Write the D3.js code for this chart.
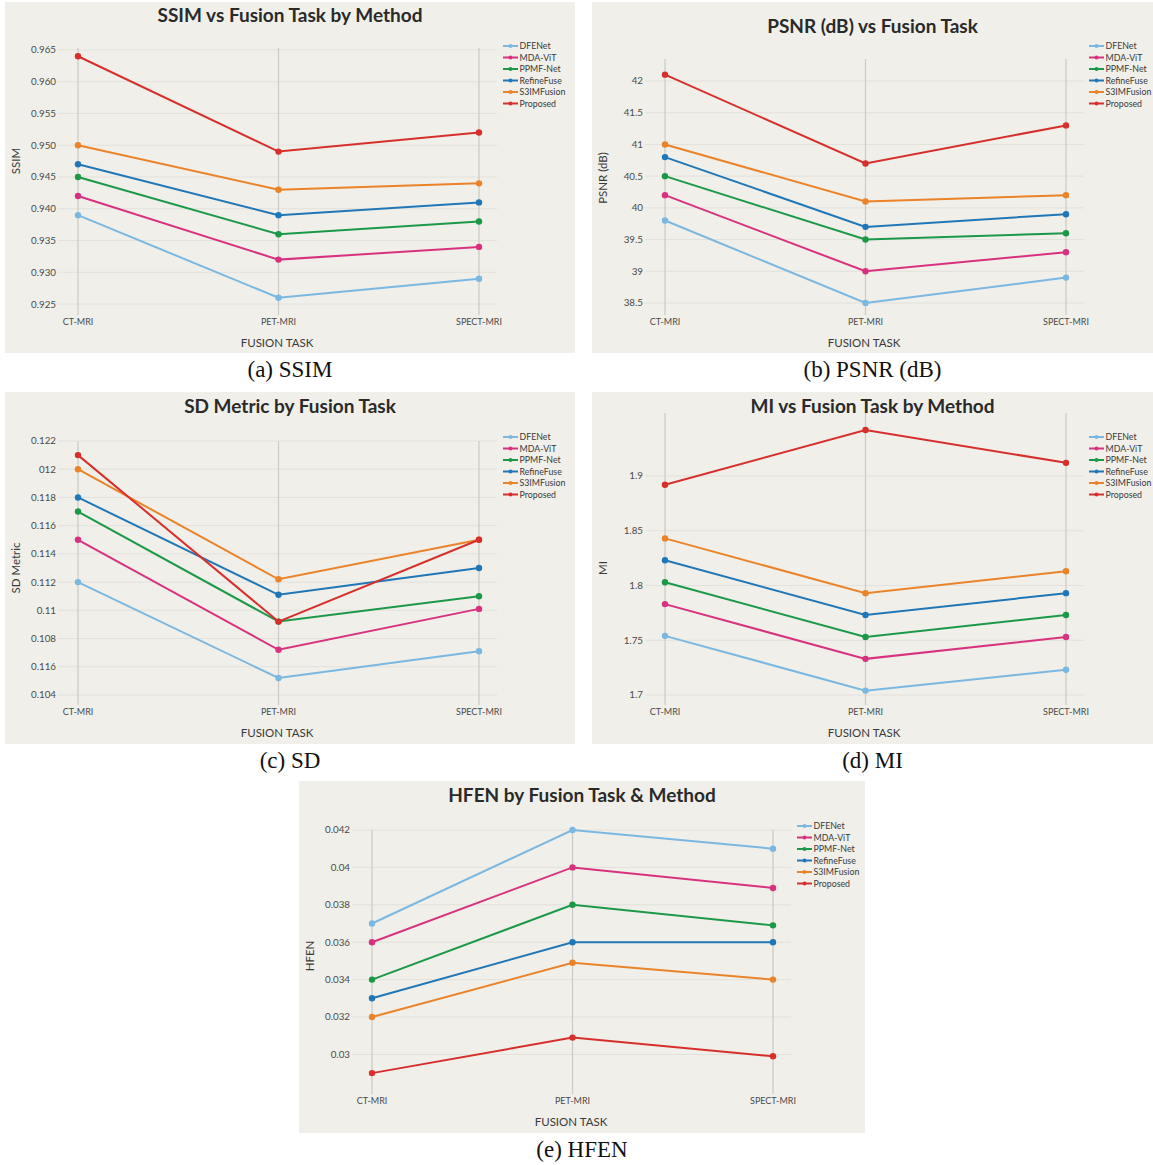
<!DOCTYPE html>
<html>
<head>
<meta charset="utf-8">
<script src="https://cdn.jsdelivr.net/npm/d3@7/dist/d3.min.js"></script>
<style>
  html, body { margin: 0; padding: 0; background: #ffffff; }
  svg { display: block; }
</style>
</head>
<body>
<svg id="fig" width="1153" height="1165"></svg>
<script>
// Fusion tasks (x categories) and compared methods (series)
const tasks = ["CT-MRI", "PET-MRI", "SPECT-MRI"];
const methods = ["DFENet", "MDA-ViT", "PPMF-Net", "RefineFuse", "S3IMFusion", "Proposed"];
const methodColors = ["#7ab8e2", "#d8317f", "#1b9948", "#2077b7", "#ea8329", "#d72f2c"];

// SSIM per method, in task order
const ssimDFENet = [0.939, 0.926, 0.929];
const ssimMDAViT = [0.942, 0.932, 0.934];
const ssimPPMFNet = [0.945, 0.936, 0.938];
const ssimRefineFuse = [0.947, 0.939, 0.941];
const ssimS3IMFusion = [0.950, 0.943, 0.944];
const ssimProposed = [0.964, 0.949, 0.952];
const ssimTicks = [0.925, 0.930, 0.935, 0.940, 0.945, 0.950, 0.955, 0.960, 0.965];
const ssimTickLabels = ["0.925", "0.930", "0.935", "0.940", "0.945", "0.950", "0.955", "0.960", "0.965"];

// PSNR (dB)
const psnrDFENet = [39.8, 38.5, 38.9];
const psnrMDAViT = [40.2, 39.0, 39.3];
const psnrPPMFNet = [40.5, 39.5, 39.6];
const psnrRefineFuse = [40.8, 39.7, 39.9];
const psnrS3IMFusion = [41.0, 40.1, 40.2];
const psnrProposed = [42.1, 40.7, 41.3];
const psnrTicks = [38.5, 39, 39.5, 40, 40.5, 41, 41.5, 42];
const psnrTickLabels = ["38.5", "39", "39.5", "40", "40.5", "41", "41.5", "42"];

// SD metric
const sdDFENet = [0.1120, 0.1052, 0.1071];
const sdMDAViT = [0.1150, 0.1072, 0.1101];
const sdPPMFNet = [0.1170, 0.1092, 0.1110];
const sdRefineFuse = [0.1180, 0.1111, 0.1130];
const sdS3IMFusion = [0.1200, 0.1122, 0.1150];
const sdProposed = [0.1210, 0.1092, 0.1150];
const sdTicks = [0.104, 0.106, 0.108, 0.110, 0.112, 0.114, 0.116, 0.118, 0.120, 0.122];
const sdTickLabels = ["0.104", "0.116", "0.108", "0.11", "0.112", "0.114", "0.116", "0.118", "012", "0.122"];

// MI
const miDFENet = [1.754, 1.704, 1.723];
const miMDAViT = [1.783, 1.733, 1.753];
const miPPMFNet = [1.803, 1.753, 1.773];
const miRefineFuse = [1.823, 1.773, 1.793];
const miS3IMFusion = [1.843, 1.793, 1.813];
const miProposed = [1.892, 1.942, 1.912];
const miTicks = [1.7, 1.75, 1.8, 1.85, 1.9];
const miTickLabels = ["1.7", "1.75", "1.8", "1.85", "1.9"];

// HFEN
const hfenDFENet = [0.0370, 0.0420, 0.0410];
const hfenMDAViT = [0.0360, 0.0400, 0.0389];
const hfenPPMFNet = [0.0340, 0.0380, 0.0369];
const hfenRefineFuse = [0.0330, 0.0360, 0.0360];
const hfenS3IMFusion = [0.0320, 0.0349, 0.0340];
const hfenProposed = [0.0290, 0.0309, 0.0299];
const hfenTicks = [0.030, 0.032, 0.034, 0.036, 0.038, 0.040, 0.042];
const hfenTickLabels = ["0.03", "0.032", "0.034", "0.036", "0.038", "0.04", "0.042"];

// Panel layout: box position, plot top, y-domain at the plot edges
const panels = [
  { title: "SSIM vs Fusion Task by Method", yTitle: "SSIM", caption: "(a) SSIM",
    series: [ssimDFENet, ssimMDAViT, ssimPPMFNet, ssimRefineFuse, ssimS3IMFusion, ssimProposed],
    ticks: ssimTicks, tickLabels: ssimTickLabels, domain: [0.9236, 0.9653],
    x: 5, y: 2, w: 570, h: 351, top: 46, titleY: 20, yTitleY: 159, legendX: 498, legendY: 44 },
  { title: "PSNR (dB) vs Fusion Task", yTitle: "PSNR (dB)", caption: "(b) PSNR (dB)",
    series: [psnrDFENet, psnrMDAViT, psnrPPMFNet, psnrRefineFuse, psnrS3IMFusion, psnrProposed],
    ticks: psnrTicks, tickLabels: psnrTickLabels, domain: [38.342, 42.347],
    x: 592, y: 2, w: 561, h: 351, top: 57, titleY: 31, yTitleY: 176, legendX: 497, legendY: 44 },
  { title: "SD Metric by Fusion Task", yTitle: "SD Metric", caption: "(c) SD",
    series: [sdDFENet, sdMDAViT, sdPPMFNet, sdRefineFuse, sdS3IMFusion, sdProposed],
    ticks: sdTicks, tickLabels: sdTickLabels, domain: [0.10343, 0.122],
    x: 5, y: 392, w: 570, h: 352, top: 49, titleY: 21, yTitleY: 176, legendX: 498, legendY: 45 },
  { title: "MI vs Fusion Task by Method", yTitle: "MI", caption: "(d) MI",
    series: [miDFENet, miMDAViT, miPPMFNet, miRefineFuse, miS3IMFusion, miProposed],
    ticks: miTicks, tickLabels: miTickLabels, domain: [1.6927, 1.9575],
    x: 592, y: 392, w: 561, h: 352, top: 21, titleY: 21, yTitleY: 176, legendX: 497, legendY: 45 },
  { title: "HFEN by Fusion Task & Method", yTitle: "HFEN", caption: "(e) HFEN",
    series: [hfenDFENet, hfenMDAViT, hfenPPMFNet, hfenRefineFuse, hfenS3IMFusion, hfenProposed],
    ticks: hfenTicks, tickLabels: hfenTickLabels, domain: [0.02799, 0.042],
    x: 299, y: 781, w: 566, h: 352, top: 49, titleY: 21, yTitleY: 175, legendX: 498, legendY: 45 }
];

const FONT = "Lato, 'Open Sans', sans-serif";
const svg = d3.select("#fig");
const plotBottom = 311, gridLeft = 53, gridRight = 492;

panels.forEach(p => {
  const g = svg.append("g").attr("transform", `translate(${p.x},${p.y})`);

  g.append("rect").attr("width", p.w).attr("height", p.h).attr("fill", "#f0efe9");

  const xs = d3.scalePoint().domain(tasks).range([73, 474]);
  const ys = d3.scaleLinear().domain(p.domain).range([plotBottom, p.top]);

  // horizontal gridlines at each tick
  g.append("g").selectAll("line").data(p.ticks).join("line")
    .attr("x1", gridLeft).attr("x2", gridRight)
    .attr("y1", d => ys(d)).attr("y2", d => ys(d))
    .attr("stroke", "#e2e1dc").attr("stroke-width", 1);

  // vertical lines at each task
  g.append("g").selectAll("line").data(tasks).join("line")
    .attr("x1", d => xs(d)).attr("x2", d => xs(d))
    .attr("y1", p.top).attr("y2", plotBottom + 2)
    .attr("stroke", "#cacac7").attr("stroke-width", 1.2);

  // y tick labels
  g.append("g").selectAll("text").data(p.ticks).join("text")
    .attr("x", 51).attr("y", d => ys(d)).attr("dy", "0.35em")
    .attr("text-anchor", "end")
    .attr("font-family", FONT).attr("font-size", 9.8).attr("fill", "#4a4a4a")
    .text((d, i) => p.tickLabels[i]);

  // x tick labels
  g.append("g").selectAll("text").data(tasks).join("text")
    .attr("x", d => xs(d)).attr("y", plotBottom + 12)
    .attr("text-anchor", "middle")
    .attr("font-family", FONT).attr("font-size", 9).attr("fill", "#4a4a4a")
    .text(d => d);

  // axis titles
  g.append("text").attr("x", 272).attr("y", plotBottom + 34)
    .attr("text-anchor", "middle")
    .attr("font-family", FONT).attr("font-size", 11.5).attr("fill", "#3a3a3a")
    .text("FUSION TASK");

  g.append("text")
    .attr("transform", `translate(15,${p.yTitleY}) rotate(-90)`)
    .attr("text-anchor", "middle")
    .attr("font-family", FONT).attr("font-size", 11.5).attr("fill", "#3a3a3a")
    .text(p.yTitle);

  // chart title
  g.append("text").attr("x", p.w / 2).attr("y", p.titleY)
    .attr("text-anchor", "middle")
    .attr("font-family", FONT).attr("font-weight", "bold").attr("font-size", 19)
    .attr("fill", "#2a2a2a")
    .text(p.title);

  // series lines and markers
  const line = d3.line().x((d, i) => xs(tasks[i])).y(d => ys(d));
  p.series.forEach((vals, k) => {
    g.append("path").datum(vals)
      .attr("d", line).attr("fill", "none")
      .attr("stroke", methodColors[k]).attr("stroke-width", 2);
    g.append("g").selectAll("circle").data(vals).join("circle")
      .attr("cx", (d, i) => xs(tasks[i])).attr("cy", d => ys(d))
      .attr("r", 3.2).attr("fill", methodColors[k]);
  });

  // legend
  const lg = g.append("g").attr("transform", `translate(${p.legendX},${p.legendY})`);
  methods.forEach((m, k) => {
    const row = lg.append("g").attr("transform", `translate(0,${k * 11.5})`);
    row.append("line").attr("x1", 0).attr("x2", 15)
      .attr("stroke", methodColors[k]).attr("stroke-width", 2);
    row.append("circle").attr("cx", 7.5).attr("cy", 0).attr("r", 2).attr("fill", methodColors[k]);
    row.append("text").attr("x", 16.5).attr("y", 0).attr("dy", "0.35em")
      .attr("font-family", FONT).attr("font-size", 8.8).attr("fill", "#3a3a3a")
      .text(m);
  });

  // caption below the panel
  svg.append("text")
    .attr("x", p.x + p.w / 2).attr("y", p.y + p.h + 24)
    .attr("text-anchor", "middle")
    .attr("font-family", "'Liberation Serif', 'Times New Roman', serif")
    .attr("font-size", 23).attr("fill", "#111")
    .text(p.caption);
});
</script>
</body>
</html>
